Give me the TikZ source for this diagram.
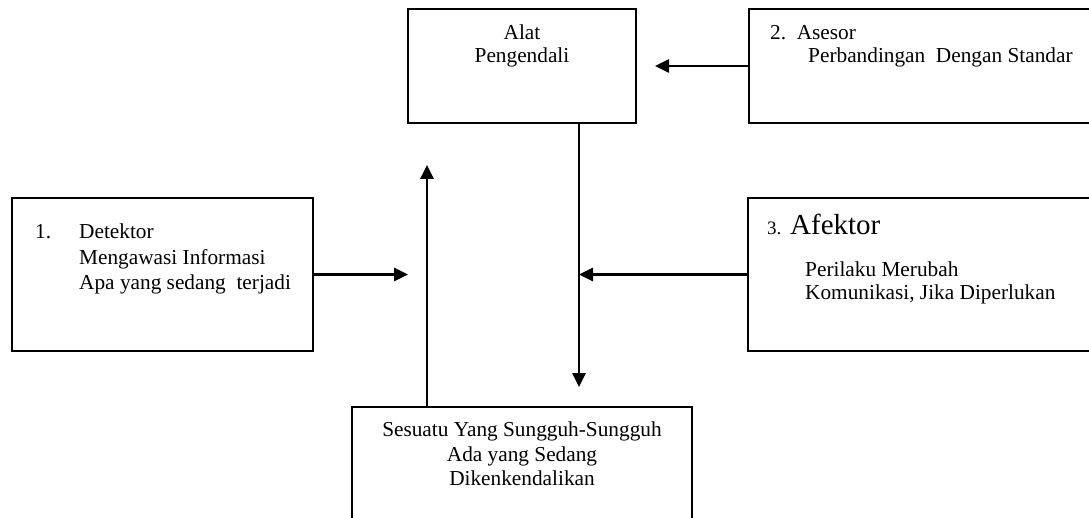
\documentclass[tikz,border=0pt]{standalone}
\usepackage{fontspec}
\setmainfont{Liberation Serif}
\usetikzlibrary{arrows.meta}
\begin{document}
\begin{tikzpicture}[x=1pt,y=-1pt,
  box/.style={draw,line width=2.2pt,rectangle,inner sep=0pt},
  arr/.style={line width=2.6pt,-{Triangle[length=14pt,width=13pt]}},
  txt/.style={anchor=base west,inner sep=0pt,font=\fontsize{21.3}{24}\selectfont},
  ctxt/.style={anchor=base,inner sep=0pt,font=\fontsize{21.3}{24}\selectfont}]
\useasboundingbox (0,0) rectangle (1089,518);
\clip (0,0) rectangle (1089,518);
% boxes
\node[box,minimum width=228pt,minimum height=114pt] (alat) at (522,66) {};
\node[box,minimum width=351pt,minimum height=114pt] (ases) at (924.5,66) {};
\node[box,minimum width=301pt,minimum height=153pt] (det) at (162.5,274.5) {};
\node[box,minimum width=352pt,minimum height=153pt] (afek) at (924,274.5) {};
\node[box,minimum width=340pt,minimum height=123pt] (obj) at (522,468.5) {};
% texts
\node[ctxt] (t1) at (522,40) {Alat};
\node[ctxt] (t2) at (522,63) {Pengendali};
\node[txt] (t3) at (770,40) {2.\ \ Asesor};
\node[txt] (t4) at (808,63) {Perbandingan\ \ Dengan Standar};
\node[txt] (t5) at (35,239) {1.};
\node[txt] (t6) at (79,239) {Detektor};
\node[txt] (t7) at (79,265) {Mengawasi Informasi};
\node[txt] (t8) at (79,290) {Apa yang sedang\ \ terjadi};
\node[txt,font=\fontsize{19}{22}\selectfont] (t9) at (767,235) {3.};
\node[txt,font=\fontsize{29}{32}\selectfont] (t10) at (790,235) {Afektor};
\node[txt] (t11) at (805,277) {Perilaku Merubah};
\node[txt] (t12) at (805,300) {Komunikasi, Jika Diperlukan};
\node[ctxt] (t13) at (522,436) {Sesuatu Yang Sungguh-Sungguh};
\node[ctxt] (t14) at (522,461) {Ada yang Sedang};
\node[ctxt] (t15) at (522,485) {Dikenkendalikan};
% connector ends
\coordinate (tipA) at (655,66);
\coordinate (tipB) at (579,387);
\coordinate (tipC) at (408,274.5);
\coordinate (tipD) at (579,274.5);
\coordinate (tipE) at (427,165);
% connectors
\draw[arr] (ases.west) -- (tipA);
\draw[arr] (alat.south -| tipB) -- (tipB);
\draw[arr] (det.east) -- (tipC);
\draw[arr] (afek.west) -- (tipD);
\draw[arr] (obj.north -| tipE) -- (tipE);
\end{tikzpicture}
\end{document}
